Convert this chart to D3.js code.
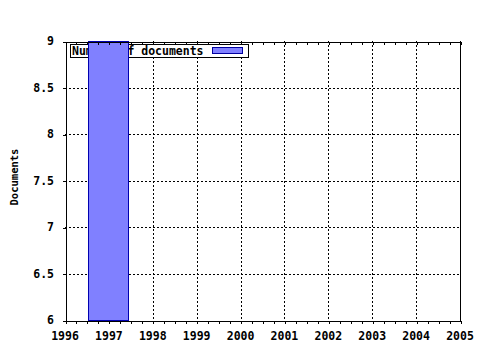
<!DOCTYPE html>
<html>
<head>
<meta charset="utf-8">
<script src="https://cdn.jsdelivr.net/npm/d3@7"></script>
<style>
    body { margin: 0; background: #fff; }
    svg text { font-family: "DejaVu Sans Mono", monospace; font-weight: bold; fill: #000; }
</style>
</head>
<body>
<div id="graph"></div>
<script>
const years = [1997];
const documents = [9];
const yearTicks = [1996, 1997, 1998, 1999, 2000, 2001, 2002, 2003, 2004, 2005];
const docTicks = [6, 6.5, 7, 7.5, 8, 8.5, 9];
const seriesLabel = 'Number of documents';
const yAxisLabel = 'Documents';

const width = 480, height = 350;
const plotLeft = 65, plotRight = 460, plotTop = 41, plotBottom = 320;
// bar extent around its year, in years
const barBefore = 0.48, barAfter = 0.43;

const svg = d3.select('div#graph').append('svg')
    .attr('width', width)
    .attr('height', height);

const x = d3.scaleLinear().domain([1996, 2005]).range([plotLeft, plotRight]);
const y = d3.scaleLinear().domain([6, 9]).range([plotBottom, plotTop]);

// quarter-year minor ticks
const minorTicks = d3.range(0, 37).map(i => 1996 + i / 4);

// grid
const grid = svg.append('g')
    .attr('stroke', '#000')
    .attr('stroke-width', 1)
    .attr('stroke-dasharray', '2,2')
    .attr('shape-rendering', 'crispEdges');
grid.selectAll('line.v')
    .data(yearTicks.slice(1, -1))
    .enter().append('line')
        .attr('x1', d => Math.round(x(d)) + 0.5)
        .attr('x2', d => Math.round(x(d)) + 0.5)
        .attr('y1', plotTop)
        .attr('y2', plotBottom);
grid.selectAll('line.h')
    .data(docTicks.slice(1, -1))
    .enter().append('line')
        .attr('x1', plotLeft)
        .attr('x2', plotRight)
        .attr('y1', d => Math.round(y(d)) + 0.5)
        .attr('y2', d => Math.round(y(d)) + 0.5);

// legend
const legend = svg.append('g');
legend.append('rect')
    .attr('x', 70.5).attr('y', 44.5)
    .attr('width', 178).attr('height', 13)
    .attr('fill', '#fff').attr('stroke', '#000');
legend.append('text')
    .attr('x', 72).attr('y', 55)
    .style('font-size', '11.5px')
    .text(seriesLabel);
legend.append('rect')
    .attr('x', 212.5).attr('y', 47.5)
    .attr('width', 30).attr('height', 6)
    .attr('fill', '#8080ff').attr('stroke', '#0000a0');

// bars
svg.append('g').selectAll('rect')
    .data(years)
    .enter().append('rect')
        .attr('x', d => Math.round(x(d - barBefore)) + 0.5)
        .attr('y', (d, i) => Math.round(y(documents[i])) + 0.5)
        .attr('width', d => Math.round(x(d + barAfter)) - Math.round(x(d - barBefore)))
        .attr('height', (d, i) => Math.round(y(6)) - Math.round(y(documents[i])))
        .attr('fill', '#8080ff')
        .attr('stroke', '#0000b0');

// axes
const axisBottom = d3.axisBottom(x).tickValues(minorTicks).tickSize(3).tickFormat('');
const axisTop = d3.axisTop(x).tickValues(minorTicks).tickSize(-3).tickFormat('');
const axisLeft = d3.axisLeft(y).tickValues(docTicks).tickSize(3).tickFormat('');

svg.append('g')
    .attr('transform', `translate(0.5, ${ plotBottom + 0.5 })`)
    .call(axisBottom);
svg.append('g')
    .attr('transform', `translate(0.5, ${ plotTop + 0.5 })`)
    .call(axisTop);
svg.append('g')
    .attr('transform', `translate(${ plotLeft + 0.5 }, 0.5)`)
    .call(axisLeft);
svg.append('line')
    .attr('x1', plotRight + 0.5).attr('x2', plotRight + 0.5)
    .attr('y1', plotTop).attr('y2', plotBottom + 1)
    .attr('stroke', '#000');
svg.selectAll('.domain').attr('stroke', '#000');
svg.selectAll('.tick line').attr('stroke', '#000');
svg.selectAll('g').attr('shape-rendering', 'crispEdges');

// tick labels
svg.append('g').selectAll('text')
    .data(yearTicks)
    .enter().append('text')
        .attr('x', d => x(d))
        .attr('y', 340)
        .attr('text-anchor', 'middle')
        .style('font-size', '11.5px')
        .text(d => d);
svg.append('g').selectAll('text')
    .data(docTicks)
    .enter().append('text')
        .attr('x', 54)
        .attr('y', d => y(d) + 4)
        .attr('text-anchor', 'end')
        .style('font-size', '11.5px')
        .text(d => d);

svg.append('text')
    .attr('transform', `translate(18, 177) rotate(-90)`)
    .attr('text-anchor', 'middle')
    .style('font-size', '10.5px')
    .text(yAxisLabel);
</script>
</body>
</html>
